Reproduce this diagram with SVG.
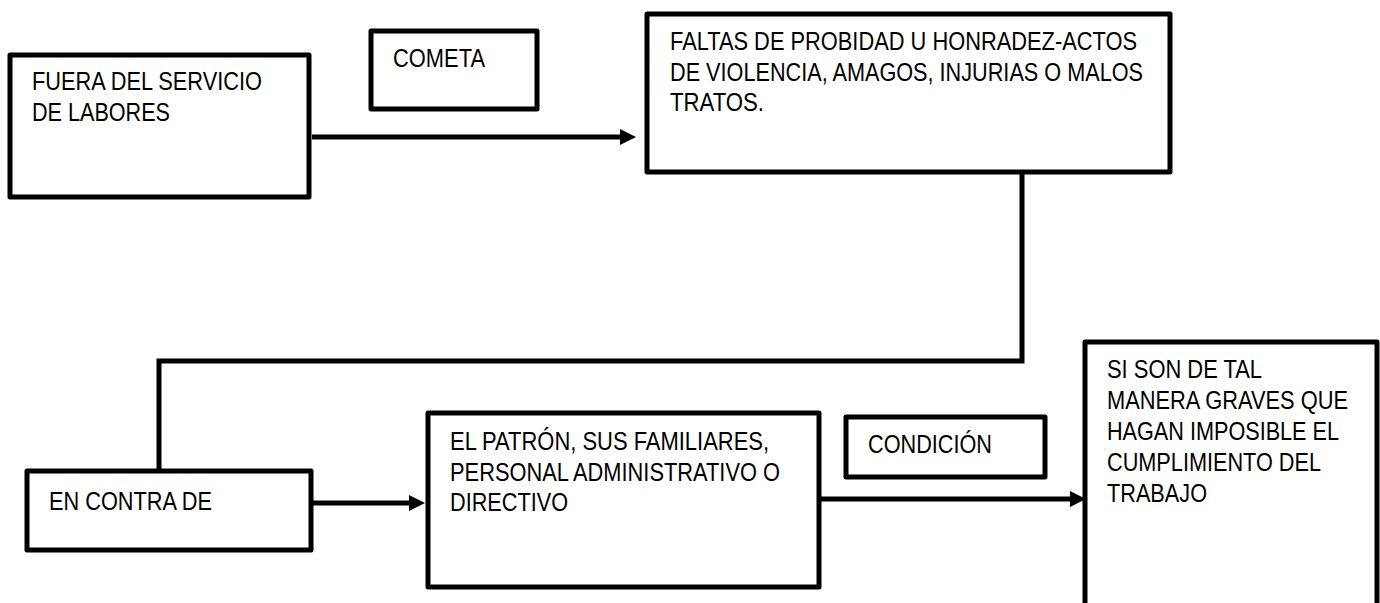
<svg xmlns="http://www.w3.org/2000/svg" width="1380" height="603" viewBox="0 0 1380 603">
<style>
.box{fill:#fff;stroke:#000;stroke-width:5;stroke-linejoin:round}
.t{font-family:"Liberation Sans",Arial,sans-serif;font-size:25px;fill:#000}
.c{fill:none;stroke:#000;stroke-width:5;stroke-linejoin:miter}
</style>
<defs>
<marker id="ah" markerUnits="userSpaceOnUse" markerWidth="18" markerHeight="18" refX="2" refY="8" orient="auto">
<path d="M0,0 L16,8 L0,16 z" fill="#000"/>
</marker>
</defs>
<rect width="1380" height="603" fill="#fff"/>
<g id="connectors">
<line class="c" x1="312" y1="137" x2="622" y2="137" marker-end="url(#ah)"/>
<polyline class="c" points="1022,172 1022,361 159,361 159,471"/>
<line class="c" x1="311" y1="503" x2="411" y2="503" marker-end="url(#ah)"/>
<line class="c" x1="819" y1="499" x2="1072" y2="499" marker-end="url(#ah)"/>
</g>
<g id="n-fuera">
<rect class="box" x="10" y="55" width="299" height="142"/>
<text class="t" x="32" y="90" textLength="230" lengthAdjust="spacingAndGlyphs">FUERA DEL SERVICIO</text>
<text class="t" x="32" y="120.5" textLength="138" lengthAdjust="spacingAndGlyphs">DE LABORES</text>
</g>
<g id="n-cometa">
<rect class="box" x="371" y="31" width="166" height="78"/>
<text class="t" x="393" y="66.5" textLength="92" lengthAdjust="spacingAndGlyphs">COMETA</text>
</g>
<g id="n-faltas">
<rect class="box" x="647" y="14" width="523" height="158"/>
<text class="t" x="670" y="50" textLength="467" lengthAdjust="spacingAndGlyphs">FALTAS DE PROBIDAD U HONRADEZ-ACTOS</text>
<text class="t" x="670" y="80.5" textLength="473" lengthAdjust="spacingAndGlyphs">DE VIOLENCIA, AMAGOS, INJURIAS O MALOS</text>
<text class="t" x="670" y="111" textLength="94" lengthAdjust="spacingAndGlyphs">TRATOS.</text>
</g>
<g id="n-encontra">
<rect class="box" x="27" y="471" width="284" height="79"/>
<text class="t" x="49" y="510" textLength="163" lengthAdjust="spacingAndGlyphs">EN CONTRA DE</text>
</g>
<g id="n-patron">
<rect class="box" x="428" y="413" width="391" height="174"/>
<text class="t" x="450" y="450" textLength="319" lengthAdjust="spacingAndGlyphs">EL PATRÓN, SUS FAMILIARES,</text>
<text class="t" x="450" y="480.5" textLength="330" lengthAdjust="spacingAndGlyphs">PERSONAL ADMINISTRATIVO O</text>
<text class="t" x="450" y="511" textLength="118" lengthAdjust="spacingAndGlyphs">DIRECTIVO</text>
</g>
<g id="n-condicion">
<rect class="box" x="846" y="417" width="199" height="60"/>
<text class="t" x="868" y="453" textLength="124" lengthAdjust="spacingAndGlyphs">CONDICIÓN</text>
</g>
<g id="n-sison">
<rect class="box" x="1085" y="342" width="292" height="290"/>
<text class="t" x="1107" y="378" textLength="155" lengthAdjust="spacingAndGlyphs">SI SON DE TAL</text>
<text class="t" x="1107" y="409" textLength="241" lengthAdjust="spacingAndGlyphs">MANERA GRAVES QUE</text>
<text class="t" x="1107" y="440" textLength="232" lengthAdjust="spacingAndGlyphs">HAGAN IMPOSIBLE EL</text>
<text class="t" x="1107" y="471" textLength="214" lengthAdjust="spacingAndGlyphs">CUMPLIMIENTO DEL</text>
<text class="t" x="1107" y="502" textLength="100" lengthAdjust="spacingAndGlyphs">TRABAJO</text>
</g>
</svg>
